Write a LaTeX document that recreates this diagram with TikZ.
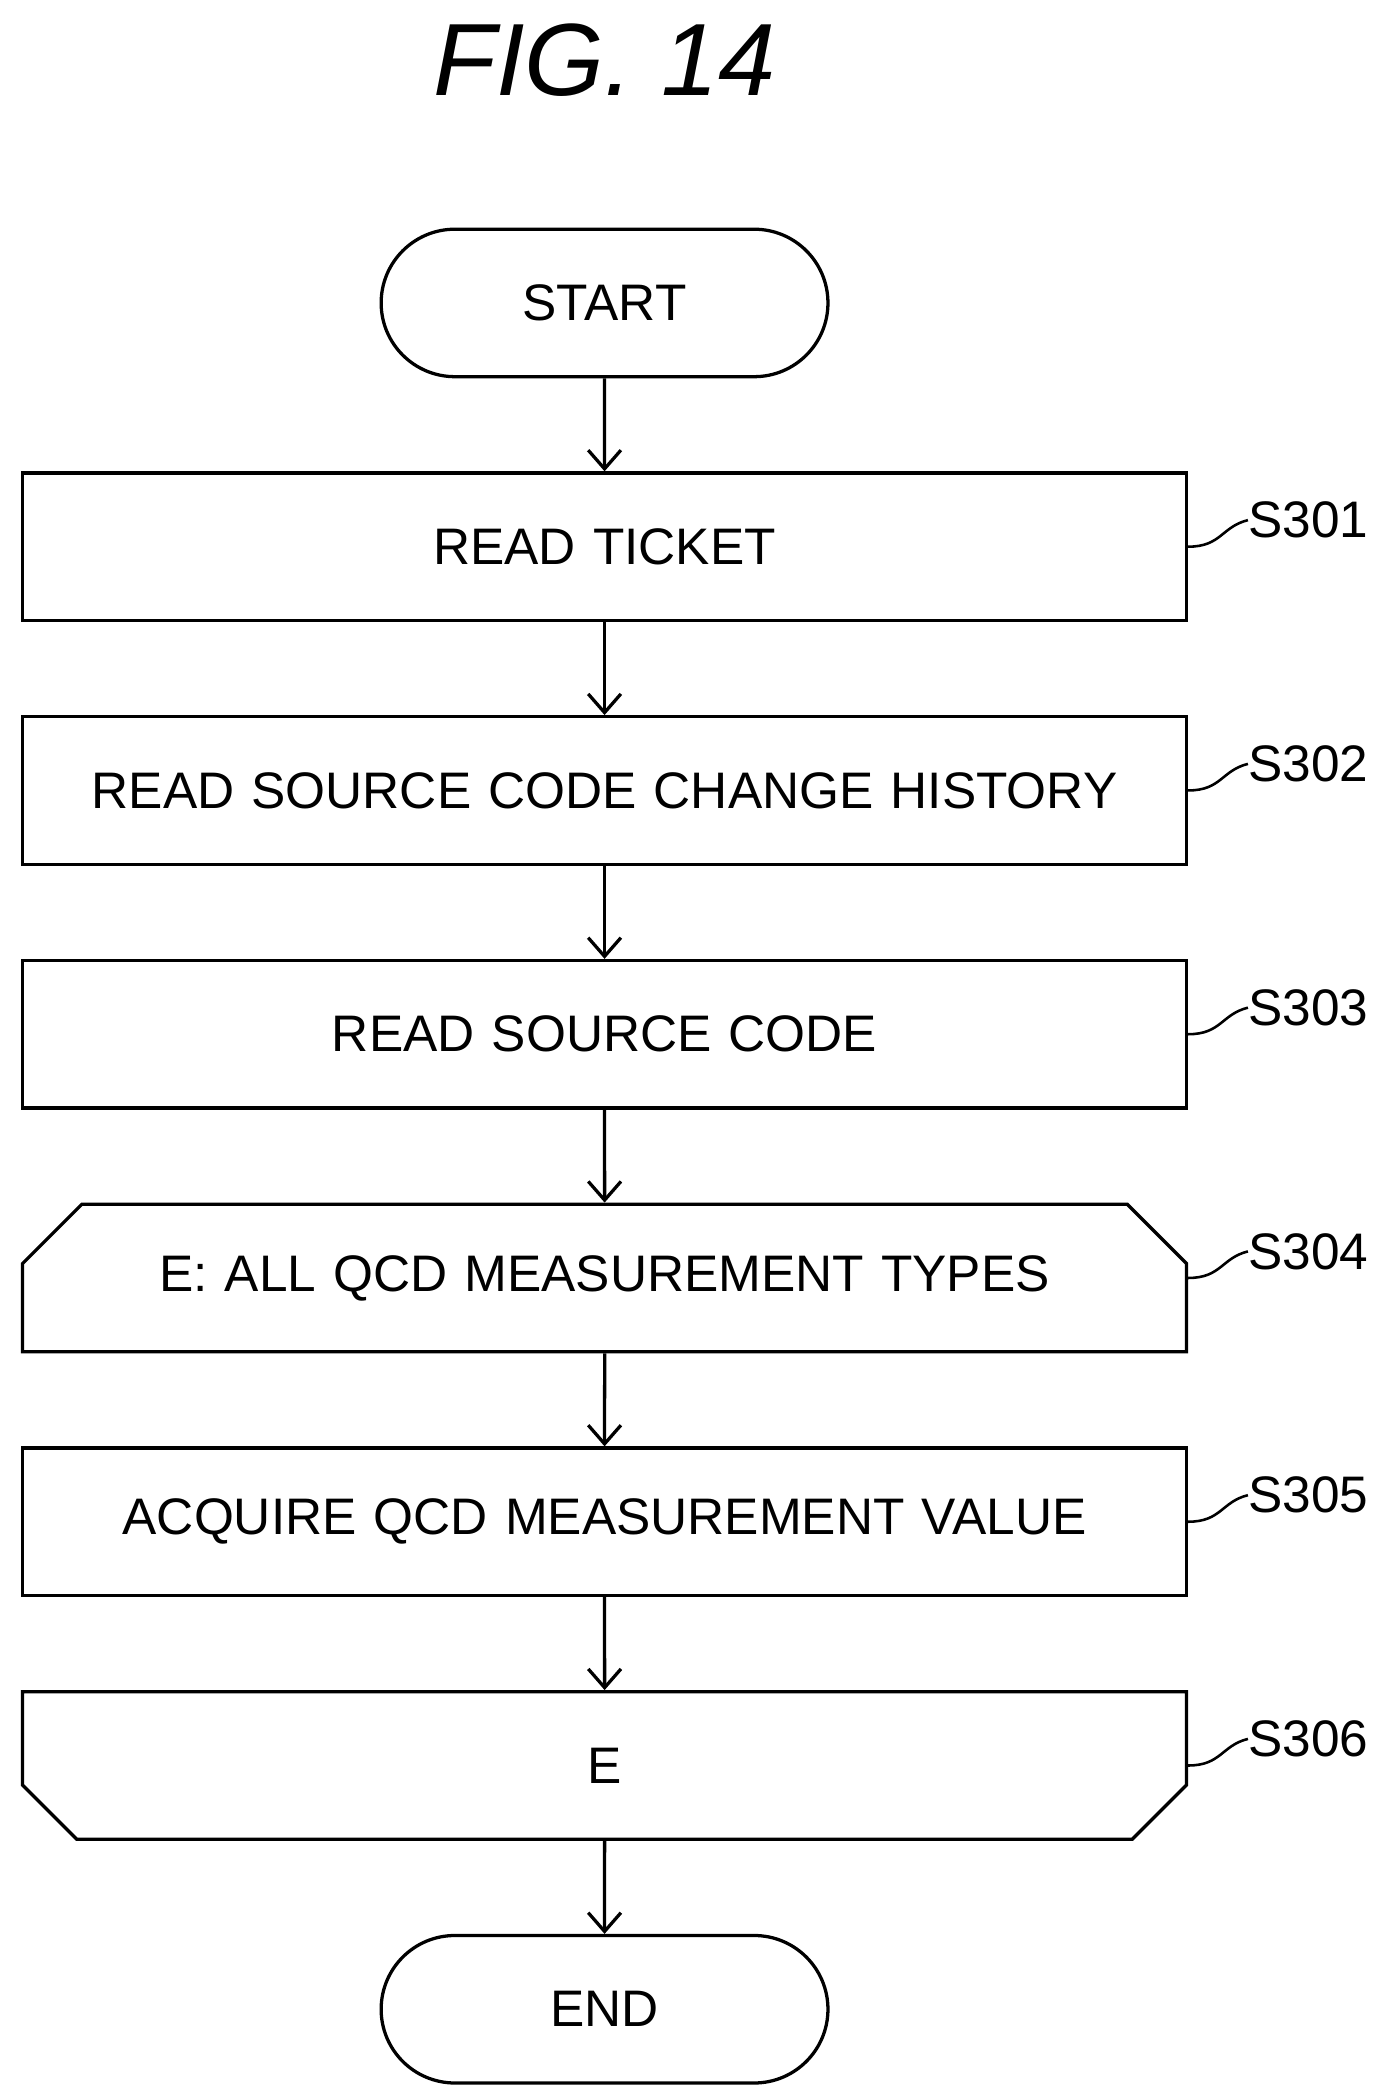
\documentclass[tikz,border=0pt]{standalone}
\usepackage{fontspec}
\setmainfont{Liberation Sans}
\usetikzlibrary{shapes.misc, arrows.meta, positioning}
\tikzstyle{stepbox} = [rectangle, draw=black, line width=1.4pt, minimum width=17.52cm, minimum height=2.22cm, text width=17.4cm, align=center, inner sep=0pt]
\tikzstyle{term} = [rounded rectangle, draw=black, line width=1.4pt, minimum width=6.96cm, minimum height=2.22cm]
\tikzstyle{loopbox} = [chamfered rectangle, draw=black, line width=1.4pt, minimum width=17.52cm, minimum height=2.22cm, text width=16.2cm, align=center, chamfered rectangle xsep=0.6cm, chamfered rectangle ysep=0.55cm, inner sep=0pt]
\tikzstyle{line} = [line width=1.4pt, -{Straight Barb[length=8pt,width=14pt]}]
\tikzstyle{tag} = [inner sep=0pt, anchor=west]

\begin{document}
\begin{tikzpicture}[node distance=1.4cm, font=\fontsize{22}{26}\selectfont]
\useasboundingbox (0,0) rectangle (21,-31.4);
\node (title) at (9.1,-0.9) {\fontsize{44}{50}\selectfont\itshape FIG. 14};
\node (start) [term] at (9.1,-4.56) {START};
\node (s1) [stepbox, below=of start] {READ TICKET};
\node (s2) [stepbox, below=of s1] {READ SOURCE CODE CHANGE HISTORY};
\node (s3) [stepbox, below=of s2] {READ SOURCE CODE};
\node (s4) [loopbox, chamfered rectangle corners={north west,north east}, below=of s3] {E: ALL QCD MEASUREMENT TYPES};
\node (s5) [stepbox, below=of s4] {ACQUIRE QCD MEASUREMENT VALUE};
\node (s6) [loopbox, chamfered rectangle corners={south west,south east}, below=of s5] {E};
\node (end) [term, below=of s6] {END};

\draw [line] (start) -- (s1);
\draw [line] (s1) -- (s2);
\draw [line] (s2) -- (s3);
\draw [line] (s3) -- (s4);
\draw [line] (s4) -- (s5);
\draw [line] (s5) -- (s6);
\draw [line] (s6) -- (end);

% step numbers
\foreach \n in {1,...,6} {
  \node (l\n) [tag] at ([xshift=0.9cm, yshift=0.4cm]s\n.east) {S30\n};
  \draw [line width=1.1pt] (s\n.east) .. controls +(0.5,0) and +(-0.4,-0.1) .. (l\n.west);
}
\end{tikzpicture}
\end{document}
